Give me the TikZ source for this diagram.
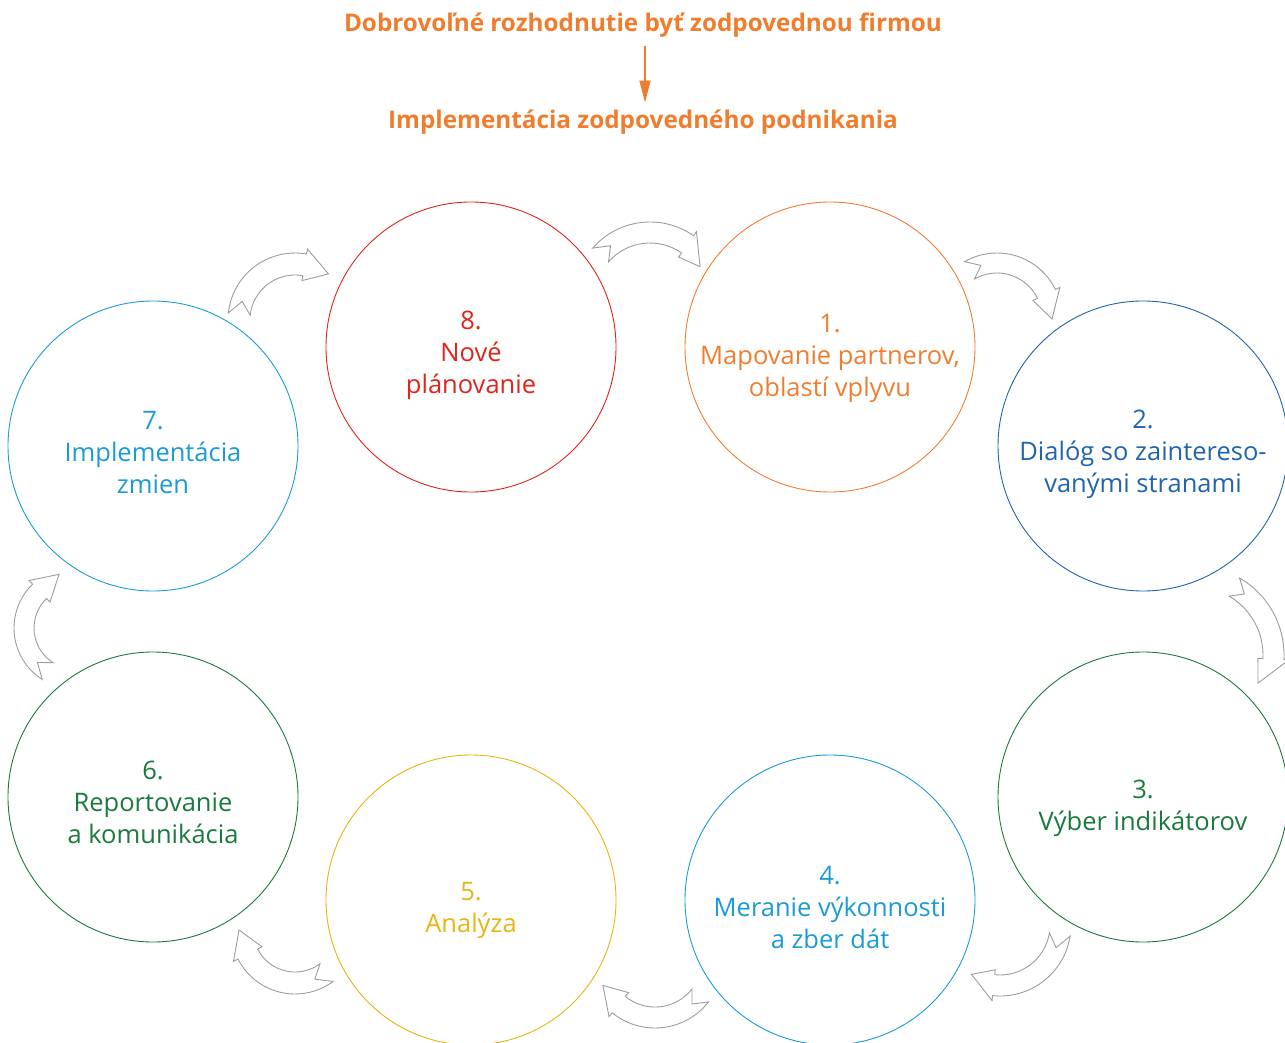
\documentclass[tikz,border=0pt]{standalone}
\usepackage{fontspec}
\setmainfont{Open Sans}
\usetikzlibrary{arrows.meta}
\definecolor{cred}{HTML}{E2231A}
\definecolor{corange}{HTML}{F07D2E}
\definecolor{cdblue}{HTML}{1E64AF}
\definecolor{cgreen}{HTML}{1A7A3C}
\definecolor{clblue}{HTML}{1A9BD7}
\definecolor{cyellow}{HTML}{E6B512}
\definecolor{carrgray}{HTML}{9D9D9D}
\tikzset{
  ring/.style={draw=#1, line width=0.9pt, circle, minimum size=290pt, inner sep=0pt},
  lbl/.style={text=#1, align=center, inner sep=0pt, font=\fontsize{25.5}{32}\selectfont},
  carrowsty/.style={draw=carrgray, fill=white, line width=0.9pt, line join=miter},
  titlesty/.style={text=corange, inner sep=0pt, font=\bfseries\fontsize{24.3}{28}\selectfont},
}
% cx cy Rmid width tail notch base tip(polar) ext
\newcommand\curvedarrow[9]{%
  \pgfmathsetmacro\carRo{#3+#4/2}%
  \pgfmathsetmacro\carRi{#3-#4/2}%
  \pgfmathsetmacro\carRoe{#3+#4/2+#9}%
  \pgfmathsetmacro\carRie{#3-#4/2-#9}%
  \draw[carrowsty,shift={(#1pt,#2pt)}]
    (#5:\carRo pt) arc[start angle=#5,end angle=#7,radius=\carRo pt]
    -- (#7:\carRoe pt) -- (#8) -- (#7:\carRie pt) -- (#7:\carRi pt)
    arc[start angle=#7,end angle=#5,radius=\carRi pt]
    -- (#6:#3pt) -- cycle;}
\begin{document}
\begin{tikzpicture}[x=1pt,y=1pt]
\useasboundingbox (0,0) rectangle (1285,-1043);
% titles
\node[titlesty] (t1) at (643,-25) {Dobrovoľné rozhodnutie byť zodpovednou firmou};
\node[titlesty] (t2) at (643,-122) {Implementácia zodpovedného podnikania};
\draw[corange, line width=1.8pt, -{Triangle[length=22pt,width=11pt]}, shorten <=9pt, shorten >=7pt] (t1.south -| 645,0) -- (t2.north -| 645,0);
% circles
\node[ring=cred]    (c8) at (471,-347) {};
\node[ring=corange] (c1) at (830,-347) {};
\node[ring=cdblue]  (c2) at (1143,-446) {};
\node[ring=cgreen]  (c3) at (1143,-797) {};
\node[ring=clblue]  (c4) at (830,-900) {};
\node[ring=cyellow] (c5) at (471,-900) {};
\node[ring=cgreen]  (c6) at (153,-797) {};
\node[ring=clblue]  (c7) at (153,-446) {};
% labels
\node[lbl=cred]    (l8) at ([yshift=-8pt]c8.center) {8.\\Nové\\plánovanie};
\node[lbl=corange] (l1) at ([yshift=-11pt]c1.center) {1.\\Mapovanie partnerov,\\oblastí vplyvu};
\node[lbl=cdblue]  (l2) at ([yshift=-8pt]c2.center) {2.\\Dialóg so zaintereso-\\vanými stranami};
\node[lbl=cgreen]  (l3) at ([yshift=-11pt]c3.center) {3.\\Výber indikátorov};
\node[lbl=clblue]  (l4) at ([yshift=-7pt]c4.center) {4.\\Meranie výkonnosti\\a zber dát};
\node[lbl=cyellow] (l5) at ([yshift=-10pt]c5.center) {5.\\Analýza};
\node[lbl=cgreen]  (l6) at ([yshift=-5.5pt]c6.center) {6.\\Reportovanie\\a komunikácia};
\node[lbl=clblue]  (l7) at ([yshift=-6.5pt]c7.center) {7.\\Implementácia\\zmien};
% curved arrows
\curvedarrow{650}{-298}{65.5}{21}{139}{127}{55}{32:59pt}{5}
\curvedarrow{997}{-318}{55}{20}{120}{107}{26}{-1:55pt}{5}
\curvedarrow{1195}{-655}{78.5}{21}{60}{51}{-3}{-24:69pt}{5}
\curvedarrow{1000}{-925}{60.5}{21}{-9}{-22}{-96}{-120:57pt}{5}
\curvedarrow{655}{-960}{57.5}{21}{-38}{-50}{-129}{-154:58pt}{5}
\curvedarrow{295}{-930}{53}{22}{-53.5}{-68}{-153}{-180:56pt}{5}
\curvedarrow{75}{-628}{51}{20}{237.5}{222.6}{134}{106.5:56pt}{5}
\curvedarrow{295}{-320}{56}{22}{174}{160.6}{80}{54:57pt}{5}
\end{tikzpicture}
\end{document}
